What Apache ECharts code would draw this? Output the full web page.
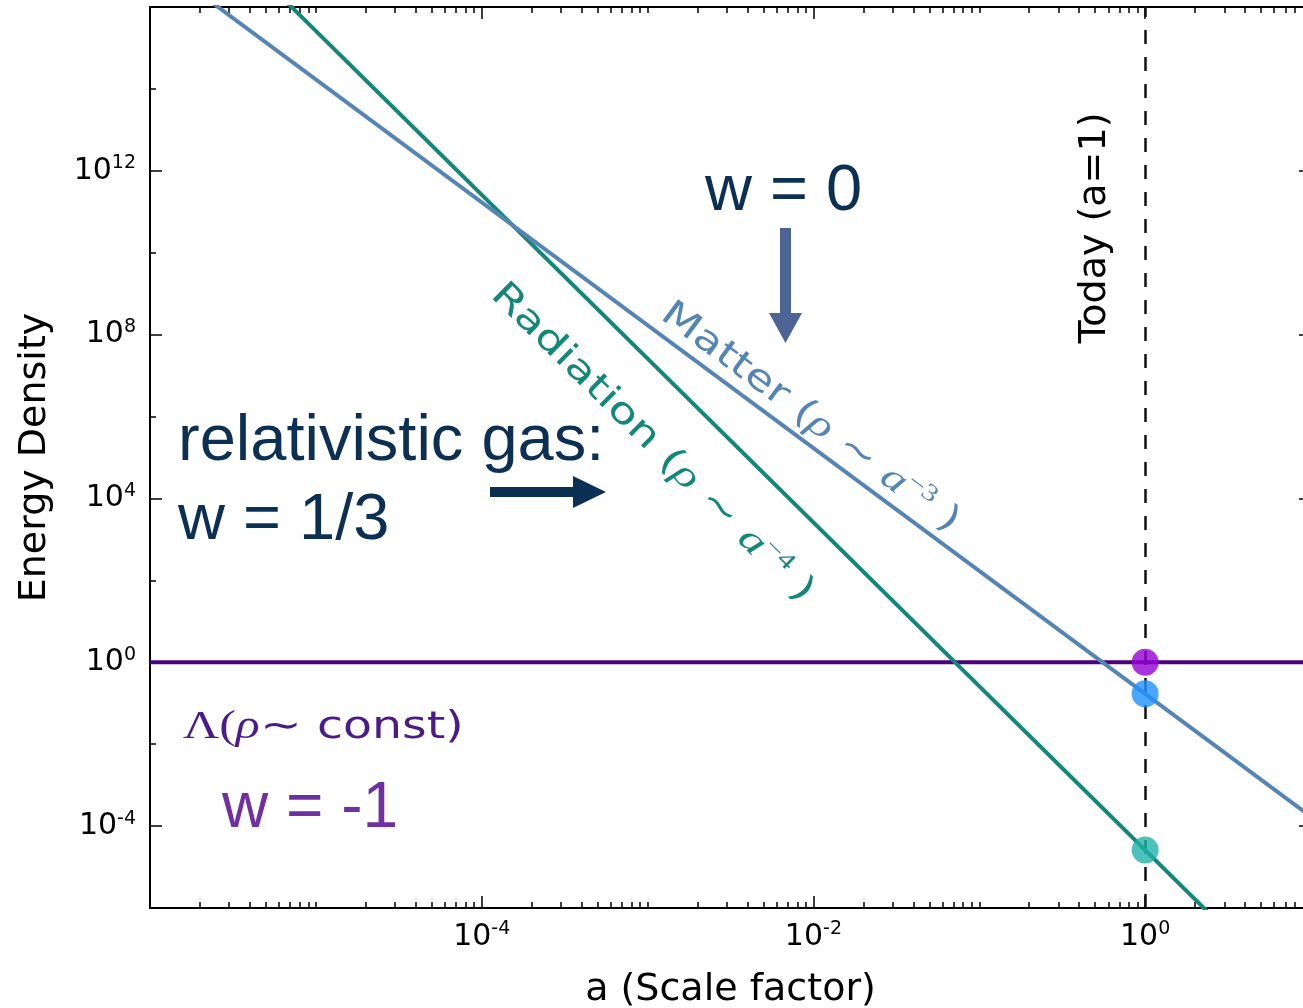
<!DOCTYPE html>
<html><head><meta charset="utf-8">
<script src="https://cdn.jsdelivr.net/npm/echarts@6/dist/echarts.min.js"></script>
<style>html,body{margin:0;padding:0;background:#fff}#c{width:1303px;height:1008px}</style>
</head><body><div id="c"></div>
<script>
// ---- data ----
const aRange = [1e-6, 10];                 // scale factor range of the lines
const matterRho = [1.7e17, 1.7e-4];        // rho ~ a^-3
const radiationRho = [2.6e19, 2.6e-9];     // rho ~ a^-4
const lambdaRho = [1, 1];                  // rho ~ const
const todayA = [1, 1, 1];
const todayRho = [1, 0.17, 2.6e-5];        // Lambda, matter, radiation today
const todayColors = ['#9400D3', '#1E90FF', '#20B2AA'];
// ---- ticks ----
const xMajorTicks = [1e-4, 1e-2, 1];
const xOddDecadeTicks = [1e-5, 1e-3, 1e-1];
const xDecades = [-6, -5, -4, -3, -2, -1, 0];
const xMinorMult = [2, 3, 4, 5, 6, 7, 8, 9];
const yMajorTicks = [1e-4, 1, 1e4, 1e8, 1e12];
const yMinorTicks = [1e-2, 1e2, 1e6, 1e10, 1e14];

const xMinorTicks = xOddDecadeTicks.slice();
xDecades.forEach(d => xMinorMult.forEach(m => xMinorTicks.push(m * Math.pow(10, d))));

const pair = (xs, ys) => xs.map((x, i) => [x, ys[i]]);

const tickFmt = v => '{b|10}{s|' + Math.round(Math.log10(v)) + '}';
const tickRich = {
  b: { fontFamily: 'DejaVu Sans', fontSize: 30, color: '#000', lineHeight: 32 },
  s: { fontFamily: 'DejaVu Sans', fontSize: 19, color: '#000', padding: [0, 0, 15, 0] }
};

function xAx(pos, major) {
  return {
    type: 'log', logBase: 10, min: 1e-6, max: 10, position: pos, gridIndex: 0,
    axisLine: { show: major, onZero: false, lineStyle: { color: '#000', width: 2 } },
    axisTick: { show: true, inside: true, length: major ? 12 : 6,
      customValues: major ? xMajorTicks : xMinorTicks, lineStyle: { color: '#000', width: 1.5 } },
    axisLabel: { show: major && pos === 'bottom', customValues: xMajorTicks, margin: 12,
      formatter: tickFmt, rich: tickRich },
    splitLine: { show: false }, minorTick: { show: false },
    name: (major && pos === 'bottom') ? 'a (Scale factor)' : '',
    nameLocation: 'middle', nameGap: 63,
    nameTextStyle: { fontFamily: 'DejaVu Sans', fontSize: 38, color: '#000' }
  };
}
function yAx(pos, major) {
  return {
    type: 'log', logBase: 10, min: 1e-6, max: 1e16, position: pos, gridIndex: 0,
    axisLine: { show: major, onZero: false, lineStyle: { color: '#000', width: 2 } },
    axisTick: { show: true, inside: true, length: major ? 12 : 6,
      customValues: major ? yMajorTicks : yMinorTicks, lineStyle: { color: '#000', width: 1.5 } },
    axisLabel: { show: major && pos === 'left', customValues: yMajorTicks, margin: 14,
      formatter: tickFmt, rich: tickRich },
    splitLine: { show: false }, minorTick: { show: false },
    name: (major && pos === 'left') ? 'Energy Density' : '',
    nameLocation: 'middle', nameGap: 96,
    nameTextStyle: { fontFamily: 'DejaVu Sans', fontSize: 38, color: '#000' }
  };
}

const chart = echarts.init(document.getElementById('c'), null, { renderer: 'canvas' });

const option = {
  animation: false,
  backgroundColor: '#fff',
  grid: { left: 150, top: 7, right: -8, bottom: 100, containLabel: false, outerBoundsMode: 'none' },
  xAxis: [xAx('bottom', true), xAx('bottom', false), xAx('top', true), xAx('top', false)],
  yAxis: [yAx('left', true), yAx('left', false), yAx('right', true), yAx('right', false)],
  series: [
    { name: 'Lambda', type: 'line', xAxisIndex: 0, yAxisIndex: 0, data: pair(aRange, lambdaRho),
      showSymbol: false, symbol: 'none', lineStyle: { color: '#4B0082', width: 4 }, z: 3 },
    { name: 'Radiation', type: 'line', xAxisIndex: 0, yAxisIndex: 0, data: pair(aRange, radiationRho),
      showSymbol: false, symbol: 'none', lineStyle: { color: '#13877a', width: 4 }, z: 3 },
    { name: 'Matter', type: 'line', xAxisIndex: 0, yAxisIndex: 0, data: pair(aRange, matterRho),
      showSymbol: false, symbol: 'none', lineStyle: { color: '#5585b5', width: 4 }, z: 3,
      markLine: { silent: true, symbol: ['none', 'none'], label: { show: false },
        lineStyle: { type: [14, 13], color: '#111', width: 2.5 }, data: [{ xAxis: 1 }], z: 2 } },
    { name: 'Today', type: 'scatter', xAxisIndex: 0, yAxisIndex: 0, symbolSize: 27, z: 5,
      data: todayA.map((a, i) => ({ value: [a, todayRho[i]], itemStyle: { color: todayColors[i] } })) }
  ]
};
chart.setOption(option);

const navy = '#0c3054';
const big = 'Liberation Sans, Arial, sans-serif';
chart.setOption({
  graphic: [
    { type: 'text', x: 178, y: 442, z: 10, style: { text: 'relativistic gas:', fontFamily: big, fontSize: 65, fill: navy, align: 'left', verticalAlign: 'middle' } },
    { type: 'text', x: 178, y: 521, z: 10, style: { text: 'w = 1/3', fontFamily: big, fontSize: 65, fill: navy, align: 'left', verticalAlign: 'middle' } },
    { type: 'text', x: 705, y: 192, z: 10, style: { text: 'w = 0', fontFamily: big, fontSize: 65, fill: navy, align: 'left', verticalAlign: 'middle' } },
    { type: 'text', x: 222, y: 809, z: 10, style: { text: 'w = -1', fontFamily: big, fontSize: 64, fill: '#7030a0', align: 'left', verticalAlign: 'middle' } },
    { type: 'polygon', z: 10, shape: { points: [[490, 487], [573, 487], [573, 476], [606, 492], [573, 508], [573, 497], [490, 497]] }, style: { fill: navy } },
    { type: 'polygon', z: 10, shape: { points: [[780, 228], [791, 228], [791, 313], [802, 313], [785.5, 343], [769, 313], [780, 313]] }, style: { fill: '#4c6595' } },
    { type: 'text', x: 1095, y: 228, rotation: Math.PI / 2, z: 10,
      style: { text: 'Today (a=1)', fontFamily: 'DejaVu Sans', fontSize: 38, fill: '#000', align: 'center', verticalAlign: 'middle' } },
    { type: 'text', x: 810, y: 418, rotation: -36.5 * Math.PI / 180, scaleX: 1.27, z: 10,
      style: { text: '{t|Matter (}{m|ρ}{t| ∼ }{m|a}{s|−3}{t| )}', align: 'center', verticalAlign: 'middle', fill: '#5585b5',
        rich: { t: { fontFamily: 'DejaVu Sans', fontSize: 36, fill: '#5585b5' },
                m: { fontFamily: 'Liberation Serif', fontStyle: 'italic', fontSize: 38, fill: '#5585b5' },
                s: { fontFamily: 'Liberation Serif', fontSize: 24, fill: '#5585b5', padding: [0, 0, 20, 0] } } } },
    { type: 'text', x: 652, y: 443, rotation: -44.6 * Math.PI / 180, scaleX: 1.3, z: 10,
      style: { text: '{t|Radiation (}{m|ρ}{t| ∼ }{m|a}{s|−4}{t| )}', align: 'center', verticalAlign: 'middle', fill: '#13877a',
        rich: { t: { fontFamily: 'DejaVu Sans', fontSize: 36, fill: '#13877a' },
                m: { fontFamily: 'Liberation Serif', fontStyle: 'italic', fontSize: 38, fill: '#13877a' },
                s: { fontFamily: 'Liberation Serif', fontSize: 24, fill: '#13877a', padding: [0, 0, 20, 0] } } } },
    { type: 'text', x: 183, y: 728, scaleX: 1.28, z: 10,
      style: { text: '{m|Λ(}{i|ρ}{m|∼}{t| const)}', align: 'left', verticalAlign: 'middle', fill: '#4b1c86',
        rich: { t: { fontFamily: 'DejaVu Sans', fontSize: 37, fill: '#4b1c86' },
                m: { fontFamily: 'Liberation Serif', fontSize: 39, fill: '#4b1c86' },
                i: { fontFamily: 'Liberation Serif', fontStyle: 'italic', fontSize: 39, fill: '#4b1c86' } } } }
  ]
});
</script></body></html>
